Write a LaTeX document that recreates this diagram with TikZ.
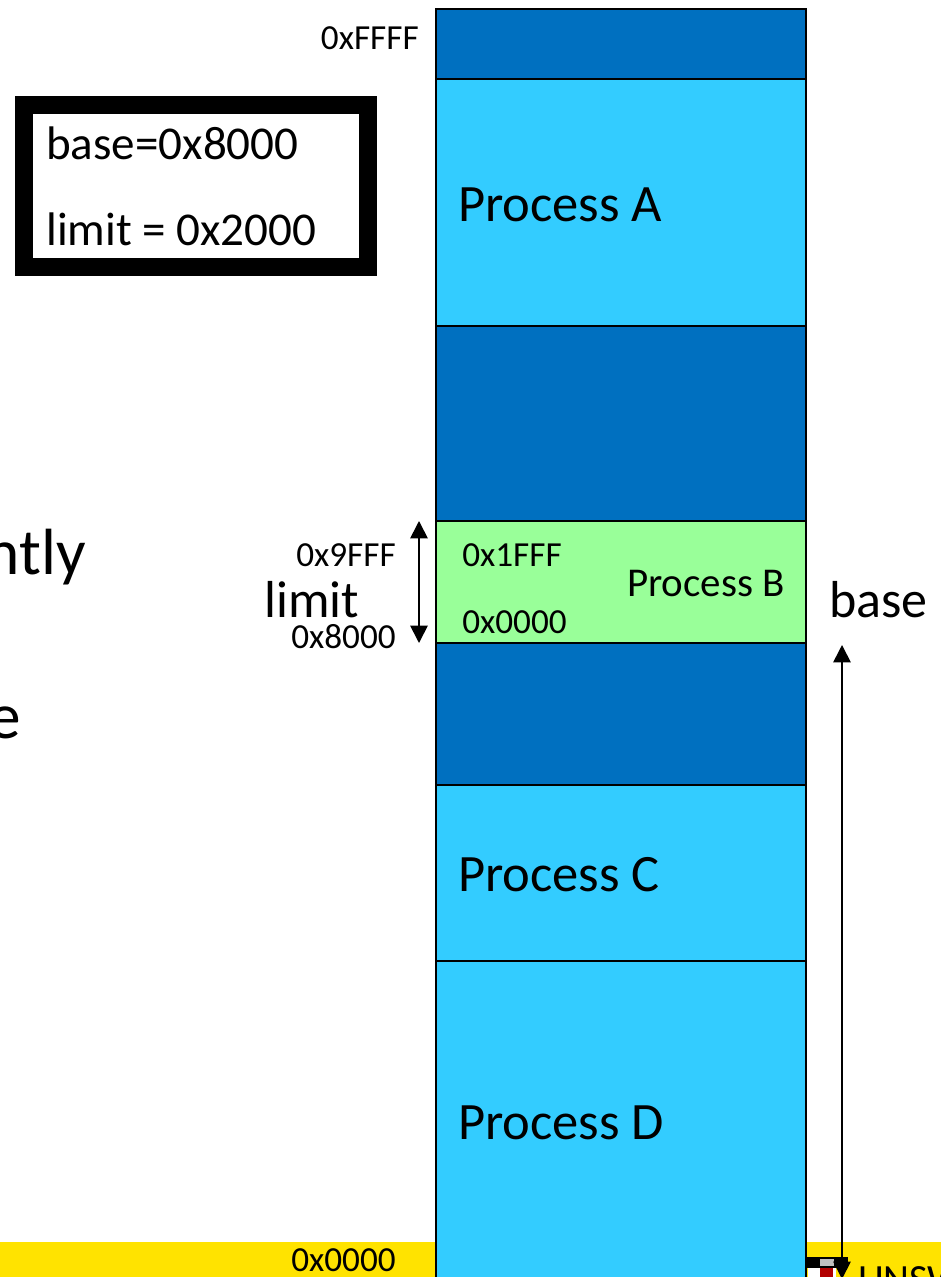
\documentclass[tikz,border=0pt]{standalone}
\usepackage{fontspec}
\setmainfont{Carlito}
\usepackage{tikz}
\usetikzlibrary{calc,positioning,arrows.meta}
\definecolor{freeBlue}{RGB}{0,112,192}
\definecolor{procBlue}{RGB}{51,204,255}
\definecolor{procGreen}{RGB}{153,255,153}
\definecolor{footYellow}{RGB}{255,227,0}
\tikzset{
  addr/.style={inner sep=0pt,font=\fontsize{26.4}{27}\selectfont},
  procname/.style={inner sep=0pt,anchor=base west,font=\fontsize{39.4}{40}\selectfont},
  biglabel/.style={inner sep=0pt,anchor=base west,font=\fontsize{39}{39}\selectfont},
  dim/.style={line width=1.3pt,{Triangle[width=13pt,length=13pt]}-{Triangle[width=13pt,length=13pt]}}
}
\begin{document}
\begin{tikzpicture}[x=0.75pt,y=-0.75pt]
\useasboundingbox (0,0) rectangle (941,1277);
\clip (0,0) rectangle (941,1277);

% draw the footer
\fill[footYellow] (0,1242) rectangle (941,1277);
\fill[black] (806,1257) rectangle (848,1268);
\fill[white] (808,1268) rectangle (836,1277);
\fill[red!70!black] (820,1268) rectangle (833,1277);
\fill[gray!50] (820,1259) rectangle (834,1266);
\node[anchor=base west,inner sep=0pt,font=\fontsize{30}{30}\selectfont] (unsw) at (858,1292) {UNSW};

% draw the memory column
\def\areas{9/79/freeBlue,
79/326/procBlue,
326/521/freeBlue,
521/643/procGreen,
643/785/freeBlue,
785/961/procBlue,
961/1290/procBlue}
\foreach \top/\bot/\col in \areas
\draw[fill=\col,line width=1.5pt] (436,\top) rectangle (806,\bot);

% label all the processes
\foreach \y/\lab in {221/A,891/C,1139/D}
\node[procname] (proc\lab) at (458,\y) {Process \lab};
\node[anchor=base east,inner sep=0pt,font=\fontsize{30.7}{31}\selectfont] (procB) at (785,596) {Process B};

% draw the register box
\node[draw,line width=13pt,minimum width=258pt,minimum height=121.5pt,inner sep=0pt] (regbox) at (196,186) {};
\node[biglabel,font=\fontsize{35.3}{36}\selectfont] (baseval) at (46,160) {base=0x8000};
\node[biglabel,font=\fontsize{35.3}{36}\selectfont] (limitval) at (46,245) {limit = 0x2000};

% draw the addresses
\foreach \x/\y/\lab/\nm in {419/38/0xFFFF/top,396/555/0x9FFF/hi,396/637/0x8000/lo,396/1260/0x0000/zero}
\node[addr,anchor=east] (addr\nm) at (\x,\y) {\lab};
\node[addr,anchor=west] (offhi) at (462,555) {0x1FFF};
\node[addr,anchor=west] (offlo) at (462,622) {0x0000};

% limit and base arrows
\coordinate (limitTop) at (419,521);
\coordinate (limitBot) at (419,643);
\draw[dim] (limitTop) -- (limitBot);
\coordinate (baseTop) at (842,645);
\coordinate (baseBot) at (842,1279);
\draw[dim] (baseTop) -- (baseBot);
\node[biglabel] (limitlab) at (264,617) {limit};
\node[biglabel] (baselab) at (829,617) {base};

% text cut by the right edge of the slide
\node[anchor=base east,inner sep=0pt,font=\fontsize{49}{49}\selectfont] (cutA) at (86,574) {ntly};
\node[anchor=base east,inner sep=0pt,font=\fontsize{49}{49}\selectfont] (cutB) at (21,738) {e};
\end{tikzpicture}
\end{document}
